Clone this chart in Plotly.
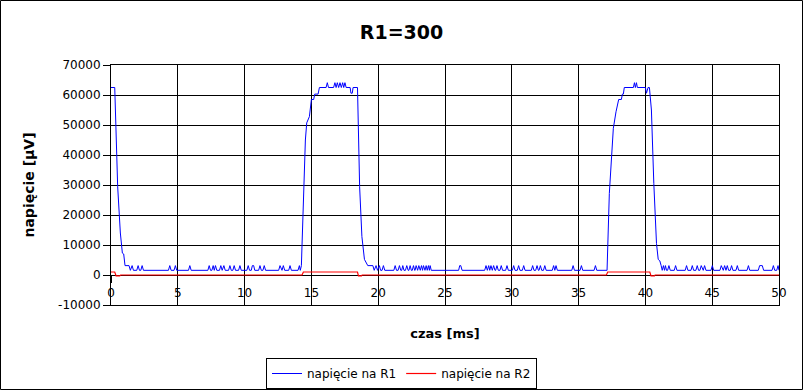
import plotly.graph_objects as go

# ---------------- data ----------------
x_tick_values = [0, 5, 10, 15, 20, 25, 30, 35, 40, 45, 50]
x_tick_labels = ["0", "5", "10", "15", "20", "25", "30", "35", "40", "45", "50"]
y_tick_values = [-10000, 0, 10000, 20000, 30000, 40000, 50000, 60000, 70000]
y_tick_labels = ["-10000", "0", "10000", "20000", "30000", "40000", "50000", "60000", "70000"]

# napięcie na R1 (time in ms / value in µV)
r1_time = [
    0.00, 0.28, 0.50, 0.70, 0.85, 0.95, 1.05, 1.35, 1.45,
    1.58, 1.68, 1.93, 2.03, 2.13, 2.23, 2.33, 2.43,
    4.30, 4.40, 4.50, 4.72, 4.82, 4.92,
    5.80, 5.90, 6.00,
    7.25, 7.35, 7.45, 7.55, 7.65, 7.73, 7.82, 7.92,
    8.12, 8.22, 8.32, 8.45, 8.55,
    8.80, 8.90, 9.00, 9.12, 9.22, 9.32,
    9.55, 9.65, 9.75,
    10.17, 10.27, 10.37, 10.50, 10.58, 10.68, 10.76,
    11.05, 11.15, 11.25, 11.37, 11.47, 11.57,
    12.55, 12.65, 12.75, 12.80, 12.90, 13.00,
    13.30, 13.40, 13.50,
    14.00, 14.10, 14.17, 14.25, 14.40, 14.55, 14.65, 14.85, 15.00, 15.17, 15.25, 15.50, 15.60,
    16.10, 16.19, 16.28, 16.66, 16.76, 16.85, 16.94, 17.04, 17.14, 17.24,
    17.34, 17.42, 17.51, 17.60, 17.90, 17.96, 18.06, 18.12, 18.45,
    18.61, 18.78, 18.97, 19.10, 19.22, 19.60, 19.70,
    19.84, 19.95, 20.09, 20.18, 20.29, 20.39, 20.49,
    21.17, 21.27, 21.37, 21.49, 21.59, 21.69, 21.76, 21.84, 21.93,
    22.04, 22.14, 22.24, 22.30, 22.39, 22.48, 22.55, 22.64, 22.73,
    22.76, 22.84, 22.93, 22.95, 23.04, 23.13, 23.15, 23.24, 23.32,
    23.39, 23.48, 23.50, 23.59, 23.67, 23.76, 23.83, 23.89, 23.97,
    26.02, 26.10, 26.18, 26.28,
    27.97, 28.07, 28.17, 28.27, 28.35, 28.44, 28.54, 28.64, 28.74,
    28.79, 28.89, 28.99, 29.11, 29.21, 29.31, 29.54, 29.64, 29.74,
    30.04, 30.14, 30.24, 30.41, 30.51, 30.61, 30.79, 30.89, 30.99,
    31.46, 31.56, 31.66, 31.79, 31.89, 31.99, 32.04, 32.14, 32.24, 32.37, 32.47, 32.57,
    33.03, 33.13, 33.22, 33.31, 33.41,
    34.49, 34.59, 34.69, 35.11, 35.21, 35.31, 36.16, 36.26, 36.36,
    37.13, 37.30, 37.60, 37.80, 38.00, 38.20, 38.28, 38.35, 38.42,
    39.10, 39.18, 39.25, 39.33, 39.40, 40.00, 40.08, 40.20, 40.30,
    40.45, 40.63, 40.83, 40.96, 41.08, 41.18, 41.26, 41.35, 41.43, 41.50, 41.58, 41.66, 41.76, 41.86,
    42.16, 42.26, 42.36, 42.98, 43.08, 43.18, 43.41, 43.51, 43.61,
    43.78, 43.88, 43.98, 44.08, 44.18, 44.28, 44.33, 44.43, 44.53,
    44.91, 45.01, 45.11, 45.58, 45.68, 45.78, 45.83, 45.93, 46.03,
    46.13, 46.23, 46.35, 46.45, 46.55, 46.78, 46.88, 46.98,
    47.61, 47.71, 47.81, 48.45, 48.55, 48.75, 48.85, 49.48, 49.58, 49.68, 49.83, 49.93, 50.00,
]
r1_value = [
    62500, 62500, 29400, 14000, 7300, 7000, 3130, 3130, 1560,
    3130, 1560, 1560, 3130, 1560, 1560, 3130, 1560,
    1560, 3130, 1560, 1560, 3130, 1560,
    1560, 3130, 1560,
    1560, 3130, 1560, 1560, 3130, 1560, 3130, 1560,
    1560, 3130, 1560, 3130, 1560,
    1560, 3130, 1560, 1560, 3130, 1560,
    1560, 3130, 1560,
    1560, 3130, 1560, 1560, 3130, 3130, 1560,
    1560, 3130, 1560, 1560, 3130, 1560,
    1560, 3130, 1560, 1560, 3130, 1560,
    1560, 3130, 1560,
    1560, 3130, 1560, 3130, 24000, 45000, 50700, 52800, 58500, 58500, 60300, 60300, 62500,
    62500, 64100, 62500, 62500, 64100, 62500, 64100, 62500, 64100, 62500,
    64100, 62500, 64100, 62500, 62500, 60600, 60600, 62500, 62500,
    29400, 12800, 5200, 4200, 3130, 3130, 1560,
    3130, 1560, 3130, 1560, 1560, 3130, 1560,
    1560, 3130, 1560, 1560, 3130, 1560, 1560, 3130, 1560,
    1560, 3130, 1560, 1560, 3130, 1560, 1560, 3130, 1560,
    1560, 3130, 1560, 1560, 3130, 1560, 1560, 3130, 1560,
    3130, 1560, 1560, 3130, 1560, 3130, 1560, 3130, 1560,
    1560, 3130, 3130, 1560,
    1560, 3130, 1560, 3130, 1560, 3130, 1560, 3130, 1560,
    1560, 3130, 1560, 1560, 3130, 1560, 1560, 3130, 1560,
    1560, 3130, 1560, 1560, 3130, 1560, 1560, 3130, 1560,
    1560, 3130, 1560, 1560, 3130, 1560, 1560, 3130, 1560, 1560, 3130, 1560,
    1560, 3130, 1560, 3130, 1560,
    1560, 3130, 1560, 1560, 3130, 1560, 1560, 3130, 1560,
    1560, 27200, 48900, 54400, 58500, 58500, 60300, 60300, 62500,
    62500, 64100, 62500, 64100, 62500, 62500, 60600, 62500, 62500,
    55000, 30500, 10500, 5200, 4700, 3130, 1560, 3130, 1560, 3130, 1560, 1560, 3130, 1560,
    1560, 3130, 1560, 1560, 3130, 1560, 1560, 3130, 1560,
    1560, 3130, 1560, 1560, 3130, 1560, 1560, 3130, 1560,
    1560, 3130, 1560, 1560, 3130, 1560, 1560, 3130, 1560,
    3130, 1560, 1560, 3130, 1560, 1560, 3130, 1560,
    1560, 3130, 1560, 1560, 3130, 3130, 1560, 1560, 3130, 1560, 1560, 3130, 1560,
]

# napięcie na R2
r2_time = [0.00, 0.28, 0.38, 0.65, 0.72, 14.30, 14.40, 18.45, 18.52, 18.75, 18.80,
           37.08, 37.18, 40.33, 40.42, 40.68, 40.73, 50.00]
r2_value = [1000, 1000, -300, -300, 0, 0, 1000, 1000, -300, -300, 0,
            0, 1000, 1000, -300, -300, 0, 0]

series_names = ["napięcie na R1", "napięcie na R2"]

# ---------------- figure ----------------
W, H = 803, 390
ML, MR, MT, MB = 111, 24, 65, 85
PW, PH = W - ML - MR, H - MT - MB

fig = go.Figure()
fig.add_trace(go.Scatter(x=r1_time, y=r1_value, mode="lines", name=series_names[0],
                         line=dict(color="#0000ff", width=1)))
fig.add_trace(go.Scatter(x=r2_time, y=r2_value, mode="lines", name=series_names[1],
                         line=dict(color="#ff0000", width=1.2), xaxis="x2"))

y_min, y_max = y_tick_values[0], y_tick_values[-1]
zero_pos = (0 - y_min) / (y_max - y_min)

fig.update_layout(
    width=W, height=H,
    margin=dict(l=ML, r=MR, t=MT, b=MB, autoexpand=False),
    paper_bgcolor="white", plot_bgcolor="white",
    font=dict(family="DejaVu Sans", size=12, color="black"),
    title=dict(text="<b>R1=300</b>", x=0.5, xanchor="center", y=1 - 32 / H, yanchor="middle",
               font=dict(size=19, color="black")),
    showlegend=True,
    legend=dict(orientation="h", x=(W / 2 - ML) / PW, xanchor="center",
                y=-(358 - (MT + PH)) / PH, yanchor="top",
                bordercolor="black", borderwidth=1, bgcolor="white",
                font=dict(size=12), itemwidth=30),
    xaxis=dict(range=[0, 50], tickvals=x_tick_values, showticklabels=False, ticks="",
               showgrid=True, gridcolor="black", gridwidth=1,
               showline=True, linecolor="black", linewidth=1, mirror=True, zeroline=False,
               title=dict(text="<b>czas [ms]</b>", font=dict(size=13), standoff=23)),
    xaxis2=dict(range=[0, 50], matches="x", overlaying="x", anchor="free", position=zero_pos,
                side="bottom", tickvals=x_tick_values, ticktext=x_tick_labels,
                ticks="outside", ticklen=7, tickcolor="black", showgrid=False,
                showline=False, zeroline=False, tickfont=dict(size=12)),
    yaxis=dict(range=[y_min, y_max], tickvals=y_tick_values, ticktext=y_tick_labels,
               ticks="outside", ticklen=7, tickcolor="black",
               showgrid=True, gridcolor="black", gridwidth=1,
               showline=True, linecolor="black", linewidth=1, mirror=True, zeroline=False,
               title=dict(text="<b>napięcie [µV]</b>", font=dict(size=14), standoff=20)),
    shapes=[dict(type="rect", xref="paper", yref="paper",
                 x0=(0.5 - ML) / PW, x1=(W - 0.5 - ML) / PW,
                 y0=-(H - 0.5 - MT - PH) / PH, y1=(MT + PH - 0.5) / PH,
                 line=dict(color="black", width=1), fillcolor="rgba(0,0,0,0)", layer="above")],
)

fig.write_html("out.html", config={"displayModeBar": False},
               post_script="document.body.style.margin='0';")
